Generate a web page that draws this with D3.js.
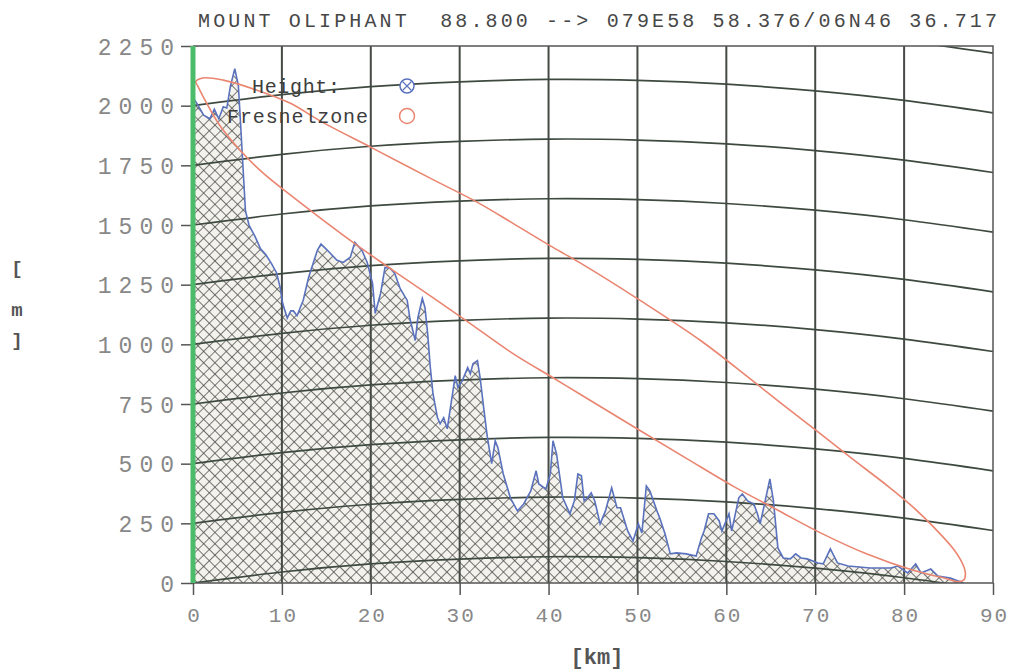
<!DOCTYPE html>
<html>
<head>
<meta charset="utf-8">
<title>Path profile</title>
<script src="https://cdn.jsdelivr.net/npm/d3@7"></script>
<style>
body { margin: 0; background: #fff; }
text { font-family: "Liberation Mono", "Courier New", monospace; }
</style>
</head>
<body>
<svg id="chart" width="1018" height="672"></svg>
<script>
// data
var titleText = "MOUNT OLIPHANT  88.800 --> 079E58 58.376/06N46 36.717";
var xTicks = [0, 10, 20, 30, 40, 50, 60, 70, 80, 90];
var yTicks = [0, 250, 500, 750, 1000, 1250, 1500, 1750, 2000, 2250];
var legendLabels = ["Height:", "Fresnelzone"];

// earth bulge of the level lines, [m] at each 10 km
var bulgeKm = [0, 10, 20, 30, 40, 50, 60, 70, 80, 90];
var bulgeM = [0, 46, 80, 100, 110, 106, 90, 62, 22, -30];

// terrain profile [km, m]
var profile = [
  [0.0,2035],[0.5,2005],[1.2,1960],[1.9,1945],[2.4,1985],[2.9,1945],[3.4,1995],[3.8,1990],
  [4.2,2080],[4.7,2155],[5.1,2085],[5.3,1960],[5.6,1760],[5.9,1560],[6.3,1500],[7.0,1450],
  [7.6,1400],[8.2,1375],[8.8,1340],[9.4,1300],[9.8,1240],[10.1,1170],[10.6,1110],[11.0,1140],
  [11.3,1140],[11.7,1120],[12.4,1185],[13.0,1280],[14.0,1395],[14.4,1420],[15.1,1395],[16.2,1352],
  [16.9,1343],[17.7,1365],[18.2,1427],[19.0,1394],[19.6,1343],[20.2,1255],[20.5,1130],[21.1,1213],
  [21.6,1322],[22.2,1318],[22.7,1297],[23.3,1234],[24.1,1184],[24.4,1108],[25.0,1016],[25.3,1112],
  [25.8,1192],[26.1,1154],[26.4,1045],[26.7,903],[27.0,793],[27.5,693],[27.8,667],[28.2,693],
  [28.6,646],[29.2,793],[29.5,869],[29.8,819],[30.3,848],[30.9,903],[31.2,877],[31.5,919],
  [32.0,932],[32.3,861],[32.7,735],[33.1,615],[33.6,500],[34.0,596],[34.3,567],[34.9,458],
  [35.7,357],[36.5,302],[37.2,331],[38.0,386],[38.6,470],[38.9,415],[39.7,394],[40.2,457],
  [40.5,596],[40.9,541],[41.6,357],[42.4,290],[42.9,344],[43.3,457],[43.7,449],[44.0,344],
  [44.4,357],[44.8,378],[45.2,344],[45.8,248],[46.4,302],[47.1,399],[47.7,315],[48.1,315],
  [48.9,218],[49.5,176],[50.1,248],[50.5,210],[51.0,407],[51.4,386],[52.2,302],[52.5,273],
  [53.1,206],[53.7,122],[54.4,126],[55.5,122],[56.6,113],[57.2,189],[57.5,218],[58.0,290],
  [58.6,290],[59.2,260],[59.5,218],[60.3,290],[60.6,218],[61.4,357],[61.8,373],[62.4,344],
  [63.1,331],[63.5,290],[63.8,248],[64.2,315],[64.9,436],[65.3,344],[65.8,147],[66.4,105],
  [67.2,101],[67.8,122],[68.4,105],[69.1,101],[70.3,84],[70.9,80],[71.7,143],[72.5,84],
  [73.7,71],[76.2,63],[78.5,63],[79.3,71],[80.4,42],[81.3,80],[81.9,42],[83.0,59],
  [83.8,29],[85.2,21],[86.7,0]
];

// fresnel zone outline [km, m]
var fresnelUpper = [
  [0.3,2100],[1.1,2116],[3.4,2107],[7.2,2065],[10.9,2011],[14.6,1930],[20.3,1820],
  [27.0,1690],[32.0,1595],[36.0,1507],[40.5,1406],[43.6,1340],[50.3,1184],[57.1,1016],[62.7,855],
  [66.1,755],[70.6,625],[74.0,525],[78.2,405],[81.1,315],[83.3,235],[85.6,140],[86.7,70],
  [86.9,38],[86.7,12]
];
var fresnelLower = [
  [86.0,6],[84.5,21],[81.1,52],[75.9,120],[70.6,210],[65.8,305],[60.8,405],[55.6,520],
  [50.0,645],[43.6,790],[40.5,860],[36.0,961],[30.4,1108],[22.5,1310],[18.0,1427],[11.7,1604],
  [7.9,1717],[5.3,1813],[3.0,1918],[1.35,2023],[0.5,2085]
];

var svg = d3.select("#chart");
var plotL = 193, plotR = 993, plotT = 46, plotB = 583;

var x = d3.scaleLinear().domain([0, 90]).range([plotL, plotR]);
var y = d3.scaleLinear().domain([0, 2250]).range([plotB, plotT]);

var defs = svg.append("defs");
defs.append("clipPath").attr("id", "plot")
  .append("rect").attr("x", plotL).attr("y", plotT)
  .attr("width", plotR - plotL).attr("height", plotB - plotT);

var pat = defs.append("pattern").attr("id", "hatch")
  .attr("patternUnits", "userSpaceOnUse")
  .attr("width", 8).attr("height", 8)
  .attr("patternTransform", "rotate(45)");
pat.append("rect").attr("width", 8).attr("height", 8).attr("fill", "#f3f2ec");
pat.append("path").attr("d", "M0,0H8M0,0V8")
  .attr("stroke", "#464646").attr("stroke-width", 1.4);

var plot = svg.append("g").attr("clip-path", "url(#plot)");

// hatched ground
var area = d3.area()
  .x(function(d) { return x(d[0]); })
  .y0(y(0))
  .y1(function(d) { return y(d[1]); });
plot.append("path").datum(profile)
  .attr("d", area).attr("fill", "url(#hatch)");

// vertical grid
plot.selectAll(".vgrid").data(xTicks.slice(1, -1)).enter()
  .append("line").attr("class", "vgrid")
  .attr("x1", function(d) { return x(d); }).attr("x2", function(d) { return x(d); })
  .attr("y1", plotT).attr("y2", plotB)
  .attr("stroke", "#454a45").attr("stroke-width", 2);

// curved level lines
var curve = d3.line()
  .x(function(d) { return x(d[0]); })
  .y(function(d) { return y(d[1]); })
  .curve(d3.curveNatural);
plot.selectAll(".level").data(yTicks).enter()
  .append("path").attr("class", "level")
  .attr("d", function(lv) {
    return curve(bulgeKm.map(function(k, i) { return [k, lv + bulgeM[i]]; }));
  })
  .attr("fill", "none").attr("stroke", "#3e4a40").attr("stroke-width", 1.7);

// profile line
var line = d3.line()
  .x(function(d) { return x(d[0]); })
  .y(function(d) { return y(d[1]); });
plot.append("path").datum(profile)
  .attr("d", line).attr("fill", "none")
  .attr("stroke", "#5a72bd").attr("stroke-width", 1.6);

// fresnel zone
var ring = d3.line()
  .x(function(d) { return x(d[0]); })
  .y(function(d) { return y(d[1]); })
  .curve(d3.curveCatmullRomClosed.alpha(0.5));
plot.append("path").datum(fresnelUpper.concat(fresnelLower))
  .attr("d", ring).attr("fill", "none")
  .attr("stroke", "#ea8570").attr("stroke-width", 1.6);

// frame
svg.append("path")
  .attr("d", "M" + plotL + "," + plotT + "H" + plotR + "V" + plotB + "H" + plotL)
  .attr("fill", "none").attr("stroke", "#555").attr("stroke-width", 1.5);

// axes
var yAxis = svg.append("g").attr("transform", "translate(" + plotL + ",0)")
  .call(d3.axisLeft(y).tickValues(yTicks).tickFormat(d3.format("d"))
    .tickSize(12).tickPadding(0));
var xAxis = svg.append("g").attr("transform", "translate(0," + plotB + ")")
  .call(d3.axisBottom(x).tickValues(xTicks).tickFormat(d3.format("d"))
    .tickSize(12).tickPadding(12));
[yAxis, xAxis].forEach(function(a) {
  a.select(".domain").remove();
  a.selectAll(".tick line").attr("stroke", "#555").attr("stroke-width", 1.5);
});
yAxis.selectAll(".tick text")
  .attr("fill", "#888").style("font-size", "23px").style("letter-spacing", "7px")
  .attr("dy", "0.36em");
xAxis.selectAll(".tick text")
  .attr("fill", "#888").style("font-size", "21px").style("letter-spacing", "2px")
  .attr("dx", "1px");

// green zero line
svg.append("line")
  .attr("x1", x(0)).attr("x2", x(0)).attr("y1", plotT).attr("y2", plotB)
  .attr("stroke", "#4cbb6a").attr("stroke-width", 5);

// title
svg.append("text").attr("x", 198).attr("y", 27)
  .attr("textLength", 799).attr("lengthAdjust", "spacing")
  .attr("fill", "#474747").style("font-size", "20px")
  .style("white-space", "pre").text(titleText);

// axis titles
svg.selectAll(".ylab").data(["[", "m", "]"]).enter()
  .append("text").attr("class", "ylab")
  .attr("x", 17).attr("y", function(d, i) { return [274, 316, 346][i]; })
  .attr("text-anchor", "middle").attr("fill", "#555")
  .style("font-size", "19px").style("font-weight", "bold").text(function(d) { return d; });
svg.append("text").attr("x", 597).attr("y", 664)
  .attr("text-anchor", "middle").attr("fill", "#555")
  .style("font-size", "22px").style("font-weight", "bold").text("[km]");

// legend
var legend = svg.append("g");
legend.append("text").attr("x", 252).attr("y", 93)
  .attr("textLength", 88).attr("lengthAdjust", "spacing")
  .attr("fill", "#3d3d3d").style("font-size", "20px").text(legendLabels[0]);
legend.append("text").attr("x", 227).attr("y", 123)
  .attr("textLength", 141).attr("lengthAdjust", "spacing")
  .attr("fill", "#3d3d3d").style("font-size", "20px").text(legendLabels[1]);
legend.append("circle").attr("cx", 407).attr("cy", 86).attr("r", 7)
  .attr("fill", "#fff").attr("stroke", "#5a72bd").attr("stroke-width", 1.5);
legend.append("path").attr("d", "M402.5,81.5L411.5,90.5M411.5,81.5L402.5,90.5")
  .attr("stroke", "#5a72bd").attr("stroke-width", 1.2);
legend.append("circle").attr("cx", 407).attr("cy", 116).attr("r", 7.5)
  .attr("fill", "none").attr("stroke", "#ea8570").attr("stroke-width", 1.5);
</script>
</body>
</html>
